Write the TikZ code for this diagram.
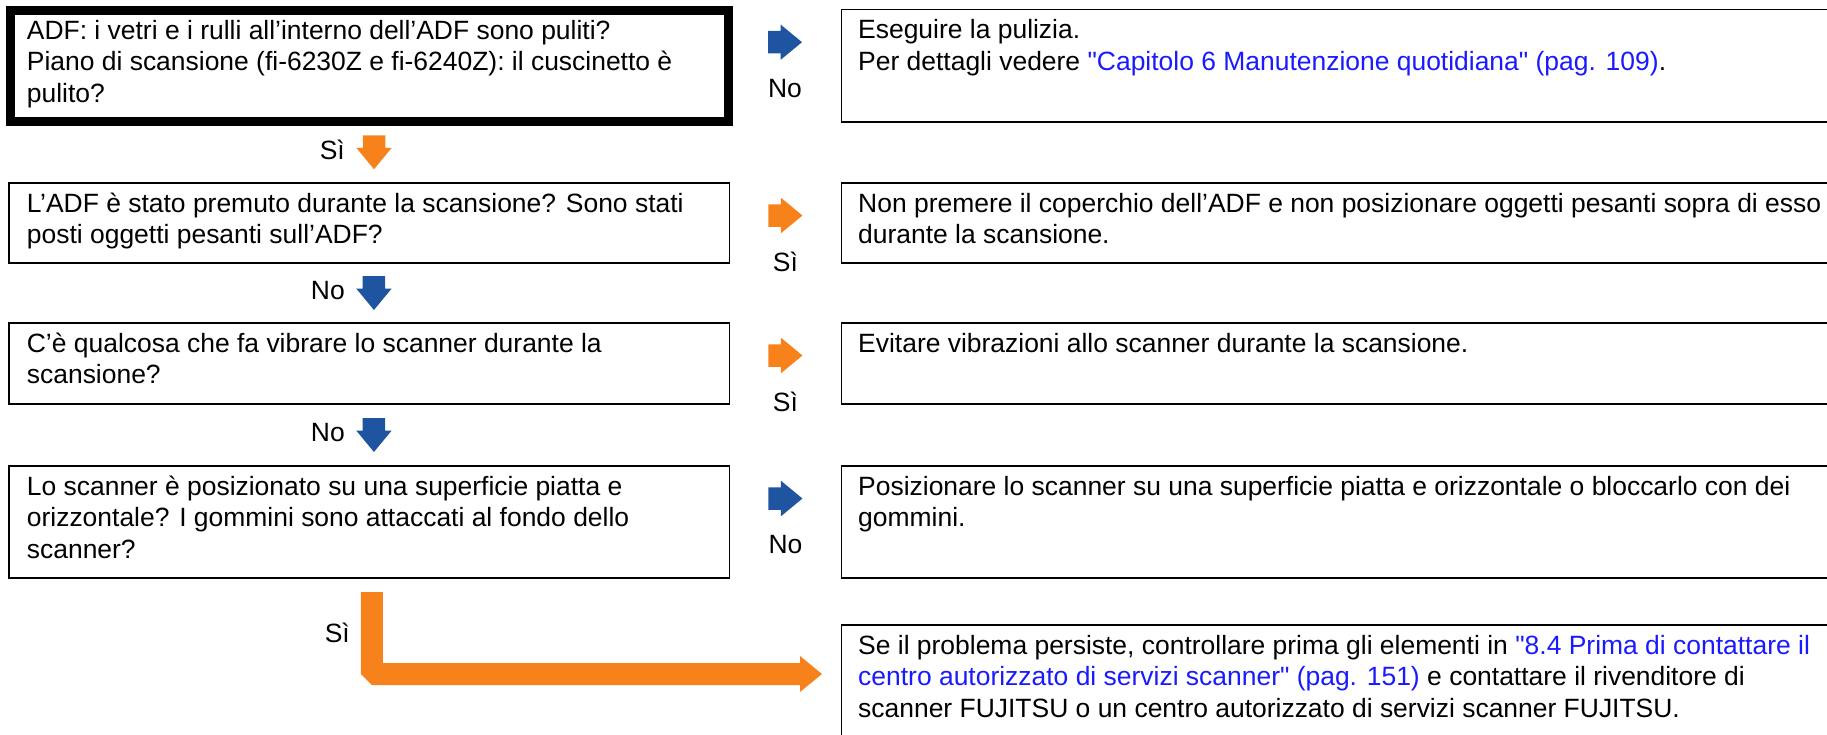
\documentclass[tikz,border=0pt]{standalone}
\usepackage{fontspec}
\newfontfamily\flowfont{Liberation Sans}
\usetikzlibrary{positioning, calc}
\definecolor{flowor}{HTML}{F7821B}
\definecolor{flowbl}{HTML}{1F55A0}
\definecolor{linkbl}{HTML}{1A1AFF}
\tikzset{
  % riquadro di domanda (colonna sinistra)
  qbox/.style={draw=black, line width=1.8pt, minimum width=720.1pt, outer sep=0pt,
    inner sep=0pt, anchor=north west},
  % riquadro di azione (colonna destra, esce dal bordo)
  abox/.style={draw=black, line width=1.8pt, minimum width=1000pt, outer sep=0pt,
    inner sep=0pt, anchor=north west},
  % testo dentro i riquadri
  txt/.style={font=\flowfont\fontsize{26.45}{31.5}\selectfont, align=left, inner sep=0pt},
  % etichette Sì / No
  lbl/.style={font=\flowfont\fontsize{26.45}{31.5}\selectfont, inner sep=0pt},
  % freccia a blocco
  flow/.pic={\fill (-17,-11.25) -- (-4.5,-11.25) -- (-4.5,-17.75) -- (17,0)
    -- (-4.5,17.75) -- (-4.5,11.25) -- (-17,11.25) -- cycle;},
}
\newcommand{\lnk}[1]{\textcolor{linkbl}{#1}}

\begin{document}
\begin{tikzpicture}[x=1pt, y=-1pt]
  \useasboundingbox (0,0) rectangle (1827,734);
  \clip (0,0) rectangle (1827,734);
  % colonna sinistra
  \node[qbox, line width=9pt, minimum width=718pt, minimum height=111.5pt] (q1) at (10.5,10) {};
  \node[qbox, minimum height=80pt] (q2) at (9.3,183) {};
  \node[qbox, minimum height=81pt] (q3) at (9.3,323) {};
  \node[qbox, minimum height=112pt] (q4) at (9.3,466) {};
  % colonna destra
  \node[abox, minimum height=112.3pt] (a1) at (841.5,9.4) {};
  \node[abox, minimum height=80pt] (a2) at (841.5,183) {};
  \node[abox, minimum height=81pt] (a3) at (841.5,323) {};
  \node[abox, minimum height=112pt] (a4) at (841.5,466) {};
  \node[abox, minimum height=200pt] (a5) at (841.5,625) {};
  % testi
  \node[txt, below right=7pt and 16.2pt of q1.north west] (q1t) {\strut ADF: i vetri e i rulli all’interno dell’ADF sono puliti?\\
    Piano di scansione (fi-6230Z e fi-6240Z): il cuscinetto è\\ pulito?};
  \node[txt, below right=7pt and 17.4pt of q2.north west] (q2t) {\strut L’ADF è stato premuto durante la scansione? Sono stati\\
    posti oggetti pesanti sull’ADF?};
  \node[txt, below right=7pt and 17.4pt of q3.north west] (q3t) {\strut C’è qualcosa che fa vibrare lo scanner durante la\\ scansione?};
  \node[txt, below right=7pt and 17.4pt of q4.north west] (q4t) {\strut Lo scanner è posizionato su una superficie piatta e\\
    orizzontale? I gommini sono attaccati al fondo dello\\ scanner?};
  \node[txt, below right=7pt and 16.5pt of a1.north west] (a1t) {\strut Eseguire la pulizia.\\
    Per dettagli vedere \lnk{"Capitolo 6 Manutenzione quotidiana" (pag. 109)}.};
  \node[txt, below right=7pt and 16.5pt of a2.north west] (a2t) {\strut Non premere il coperchio dell’ADF e non posizionare oggetti pesanti sopra di esso\\
    durante la scansione.};
  \node[txt, below right=7pt and 16.5pt of a3.north west] (a3t) {\strut Evitare vibrazioni allo scanner durante la scansione.};
  \node[txt, below right=7pt and 16.5pt of a4.north west] (a4t) {\strut Posizionare lo scanner su una superficie piatta e orizzontale o bloccarlo con dei\\
    gommini.};
  \node[txt, below right=7pt and 16.5pt of a5.north west] (a5t) {\strut Se il problema persiste, controllare prima gli elementi in \lnk{"8.4 Prima di contattare il}\\
    \lnk{centro autorizzato di servizi scanner" (pag. 151)} e contattare il rivenditore di\\
    scanner FUJITSU o un centro autorizzato di servizi scanner FUJITSU.};
  % frecce verso il basso
  \coordinate (d1) at ($(q1.south)!.5!(q2.north)+(4.6,0)$);
  \coordinate (d2) at ($(q2.south)!.5!(q3.north)+(4.6,0)$);
  \coordinate (d3) at ($(q3.south)!.5!(q4.north)+(4.6,0)$);
  \pic[rotate=-90, fill=flowor] at (d1) {flow};
  \pic[rotate=-90, fill=flowbl] at (d2) {flow};
  \pic[rotate=-90, fill=flowbl] at (d3) {flow};
  \node[lbl, anchor=east] (s1) at ($(d1)+(-29,-2)$) {Sì};
  \node[lbl, anchor=east] (n2) at ($(d2)+(-29,-2)$) {No};
  \node[lbl, anchor=east] (n3) at ($(d3)+(-29,-2)$) {No};
  % frecce verso destra
  \coordinate (r1) at ($(q1.north east)!.5!(a1.north west)+(0,32.5)$);
  \coordinate (r2) at ($(q2.north east)!.5!(a2.north west)+(0,32.5)$);
  \coordinate (r3) at ($(q3.north east)!.5!(a3.north west)+(0,32.5)$);
  \coordinate (r4) at ($(q4.north east)!.5!(a4.north west)+(0,32.5)$);
  \pic[fill=flowbl] at (r1) {flow};
  \pic[fill=flowor] at (r2) {flow};
  \pic[fill=flowor] at (r3) {flow};
  \pic[fill=flowbl] at (r4) {flow};
  \node[lbl] (n1r) at ($(r1)+(0,46)$) {No};
  \node[lbl] (s2r) at ($(r2)+(0,46)$) {Sì};
  \node[lbl] (s3r) at ($(r3)+(0,46)$) {Sì};
  \node[lbl] (n4r) at ($(r4)+(0,46)$) {No};
  % freccia a L verso l'ultimo riquadro
  \coordinate (lt) at ($(q4.south)+(2.6,14)$);
  \coordinate (lp) at ($(a5.north west)+(-19.5,49)$);
  \fill[flowor] ($(lt)+(-11,0)$) -- ($(lt)+(11,0)$) |- ($(lp)+(-22,-11)$) -- ++(0,-7) -- (lp)
    -- ++(-22,18) -- ++(0,-7) -- ($(lt |- lp)+(0,11)$) -- ($(lt |- lp)+(-11,0)$) -- cycle;
  \node[lbl, anchor=east] (s4) at ($(lt)+(-22,41)$) {Sì};
\end{tikzpicture}
\end{document}
